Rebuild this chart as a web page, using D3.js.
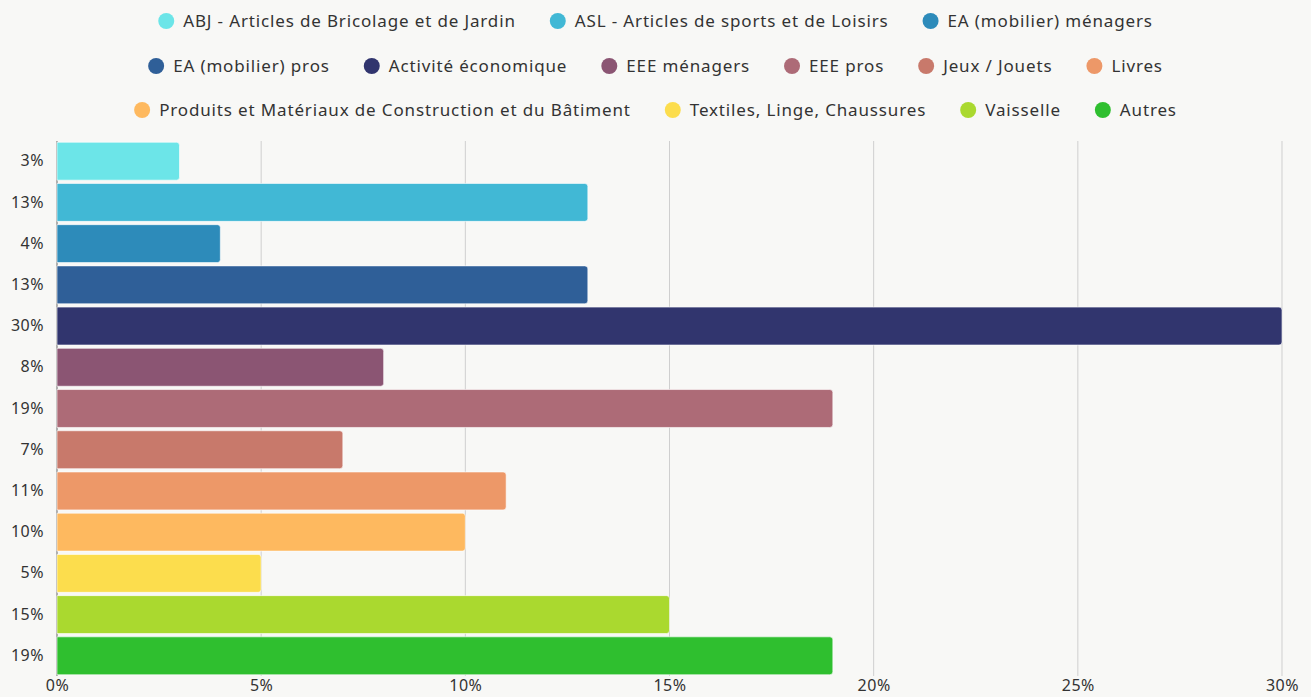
<!DOCTYPE html>
<meta charset="utf-8">
<style>
  body { margin: 0; background: #f8f8f6; }
  svg { display: block; }
  text { font-family: 'Noto Sans', sans-serif; fill: #333; }
  .legend text { font-size: 17px; letter-spacing: 0.85px; }
  .axis text { font-size: 16px; letter-spacing: 0.5px; }
  .grid line { stroke: #cfcfcf; }
</style>
<script src="https://d3js.org/d3.v7.min.js"></script>
<svg width="1311" height="697"></svg>
<script>
  var categories = [
    "ABJ - Articles de Bricolage et de Jardin",
    "ASL - Articles de sports et de Loisirs",
    "EA (mobilier) ménagers",
    "EA (mobilier) pros",
    "Activité économique",
    "EEE ménagers",
    "EEE pros",
    "Jeux / Jouets",
    "Livres",
    "Produits et Matériaux de Construction et du Bâtiment",
    "Textiles, Linge, Chaussures",
    "Vaisselle",
    "Autres"
  ];
  var values = [3, 13, 4, 13, 30, 8, 19, 7, 11, 10, 5, 15, 19];
  var colors = ["#6ce5e8", "#41b8d5", "#2d8bba", "#2f5f98", "#31356e", "#8b5573",
    "#ad6b77", "#c8796b", "#ed9868", "#feb95f", "#fcdd4d", "#aad92f", "#2fbf2f"];
  var xTicks = [0, 5, 10, 15, 20, 25, 30];
  var legendRows = [3, 6, 4]; // items per legend row

  var svg = d3.select("svg"),
    width = +svg.attr("width"),
    margin = {top: 141, right: 29, bottom: 21, left: 57},
    innerW = width - margin.left - margin.right,
    innerH = +svg.attr("height") - margin.top - margin.bottom;

  var x = d3.scaleLinear().domain([0, 30]).range([0, innerW]);
  var y = d3.scaleBand().domain(d3.range(values.length)).range([0, innerH]).paddingInner(0.08).paddingOuter(0.03);

  var g = svg.append("g").attr("transform", "translate(" + margin.left + "," + margin.top + ")");

  g.append("g").attr("class", "grid")
    .selectAll("line").data(xTicks.slice(1)).enter().append("line")
    .attr("x1", function(d) { return x(d); }).attr("x2", function(d) { return x(d); })
    .attr("y1", 0).attr("y2", innerH);

  g.append("line").attr("x1", 0).attr("x2", 0).attr("y1", 0).attr("y2", innerH)
    .attr("stroke", "#666");

  // bars, rounded on the right end only
  g.selectAll("path.bar").data(values).enter().append("path")
    .attr("class", "bar")
    .attr("fill", function(d, i) { return colors[i]; })
    .attr("stroke", "rgba(255,255,255,0.6)")
    .attr("d", function(d, i) {
      var x1 = x(d), y0 = y(i), h = y.bandwidth(), r = 3;
      return "M0," + y0 + "H" + (x1 - r) + "Q" + x1 + "," + y0 + " " + x1 + "," + (y0 + r) +
        "V" + (y0 + h - r) + "Q" + x1 + "," + (y0 + h) + " " + (x1 - r) + "," + (y0 + h) + "H0Z";
    });

  var yAxis = g.append("g").attr("class", "axis")
    .call(d3.axisLeft(y).tickSize(0).tickPadding(13).tickFormat(function(i) { return values[i] + "%"; }));
  yAxis.select(".domain").remove();

  var xAxis = g.append("g").attr("class", "axis").attr("transform", "translate(0," + innerH + ")")
    .call(d3.axisBottom(x).tickValues(xTicks).tickSize(0).tickPadding(4).tickFormat(function(d) { return d + "%"; }));
  xAxis.select(".domain").remove();

  // legend
  var legend = svg.append("g").attr("class", "legend");
  var start = 0, rowY = [21, 66, 110];
  legendRows.forEach(function(n, r) {
    var row = legend.append("g");
    var cx = 0;
    for (var k = start; k < start + n; k++) {
      var it = row.append("g").attr("transform", "translate(" + cx + ",0)");
      it.append("circle").attr("cx", 8).attr("r", 8).attr("fill", colors[k]);
      var t = it.append("text").attr("x", 25).attr("dy", "0.35em").text(categories[k]);
      cx += 25 + t.node().getComputedTextLength() + 34;
    }
    var w = cx - 34;
    row.attr("transform", "translate(" + ((width - w) / 2) + "," + rowY[r] + ")");
    start += n;
  });
</script>
